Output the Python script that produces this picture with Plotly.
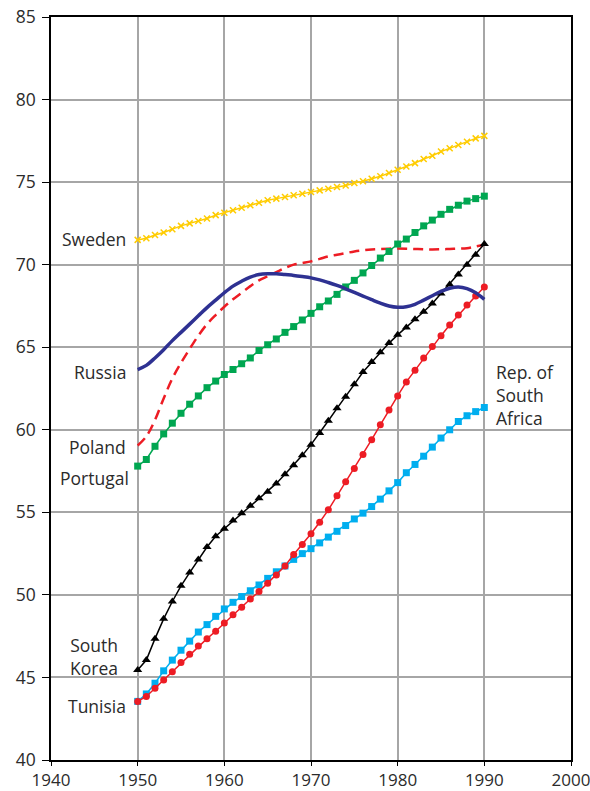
import plotly.graph_objects as go

years = list(range(1950, 1991))

sweden = [71.5, 71.6, 71.8, 71.95, 72.15, 72.35, 72.5, 72.65, 72.8, 73.0,
          73.15, 73.3, 73.45, 73.6, 73.75, 73.9, 74.0, 74.1, 74.2, 74.3,
          74.4, 74.5, 74.6, 74.7, 74.8, 74.95, 75.05, 75.2, 75.35, 75.55,
          75.75, 75.95, 76.15, 76.4, 76.6, 76.85, 77.05, 77.25, 77.45, 77.65, 77.8]

portugal = [57.8, 58.2, 59.0, 59.75, 60.4, 61.0, 61.55, 62.05, 62.55, 62.95,
            63.35, 63.65, 64.0, 64.35, 64.8, 65.15, 65.5, 65.9, 66.25, 66.65,
            67.05, 67.45, 67.8, 68.2, 68.65, 69.05, 69.5, 69.95, 70.4, 70.8,
            71.25, 71.55, 71.95, 72.35, 72.7, 73.05, 73.35, 73.6, 73.85, 74.0, 74.15]

russia = [63.65, 63.9, 64.35, 64.85, 65.4, 65.9, 66.4, 66.9, 67.4, 67.85,
          68.3, 68.7, 69.0, 69.25, 69.4, 69.45, 69.45, 69.4, 69.35, 69.28,
          69.2, 69.08, 68.92, 68.74, 68.54, 68.32, 68.1, 67.88, 67.67, 67.5,
          67.42, 67.45, 67.6, 67.85, 68.12, 68.38, 68.57, 68.65, 68.55, 68.3, 67.9]

poland = [59.05, 59.6, 60.6, 61.9, 63.1, 64.05, 64.9, 65.7, 66.4, 66.95,
          67.45, 67.9, 68.3, 68.7, 69.05, 69.3, 69.55, 69.8, 70.0, 70.1,
          70.2, 70.35, 70.5, 70.6, 70.7, 70.8, 70.87, 70.92, 70.95, 70.97,
          70.98, 70.97, 70.95, 70.93, 70.92, 70.93, 70.95, 70.97, 71.0, 71.1, 71.2]

south_korea = [45.45, 46.05, 47.35, 48.55, 49.6, 50.55, 51.35, 52.15, 52.9, 53.55,
               54.0, 54.5, 54.95, 55.4, 55.85, 56.25, 56.75, 57.3, 57.85, 58.45,
               59.1, 59.8, 60.55, 61.3, 62.0, 62.75, 63.5, 64.1, 64.7, 65.25,
               65.75, 66.2, 66.7, 67.15, 67.65, 68.25, 68.8, 69.4, 70.0, 70.6, 71.25]

tunisia = [43.55, 43.85, 44.35, 44.85, 45.35, 45.9, 46.4, 46.9, 47.35, 47.8,
           48.3, 48.8, 49.25, 49.75, 50.2, 50.7, 51.2, 51.75, 52.45, 53.05,
           53.7, 54.4, 55.15, 56.0, 56.85, 57.65, 58.5, 59.4, 60.3, 61.2,
           62.05, 62.9, 63.6, 64.35, 65.05, 65.7, 66.35, 66.95, 67.55, 68.1, 68.65]

south_africa = [43.55, 44.0, 44.65, 45.4, 46.05, 46.65, 47.2, 47.75, 48.2, 48.7,
                49.15, 49.55, 49.9, 50.25, 50.6, 51.0, 51.4, 51.75, 52.15, 52.5,
                52.8, 53.15, 53.5, 53.85, 54.2, 54.6, 54.95, 55.35, 55.8, 56.3,
                56.8, 57.4, 57.9, 58.4, 58.95, 59.5, 60.0, 60.5, 60.85, 61.1, 61.35]

x_ticks = [1940, 1950, 1960, 1970, 1980, 1990, 2000]
y_ticks = [40, 45, 50, 55, 60, 65, 70, 75, 80, 85]

labels = [
    ("Sweden", 1948.9, 71.55, "right"),
    ("Russia", 1948.9, 63.5, "right"),
    ("Poland", 1948.9, 58.95, "right"),
    ("Portugal", 1949.2, 57.1, "right"),
    ("South<br>Korea", 1948.0, 46.25, "right"),
    ("Tunisia", 1948.9, 43.3, "right"),
    ("Rep. of<br>South<br>Africa", 1991.1, 62.1, "left"),
]

FONT = "Open Sans, Noto Sans, sans-serif"
TXT = "#2b2b2b"

fig = go.Figure()

fig.add_trace(go.Scatter(x=years, y=poland, mode="lines",
                         line=dict(color="#ED1C24", width=2.5, dash="10px,6px", shape="spline"),
                         name="Poland"))
fig.add_trace(go.Scatter(x=years, y=sweden, mode="lines+markers",
                         line=dict(color="#FFCC00", width=1.5),
                         marker=dict(symbol="x-thin-open", size=6, color="#FFCC00",
                                     line=dict(width=1.5, color="#FFCC00")),
                         name="Sweden"))
fig.add_trace(go.Scatter(x=years, y=portugal, mode="lines+markers",
                         line=dict(color="#00A651", width=1.5),
                         marker=dict(symbol="square", size=7, color="#00A651"),
                         name="Portugal"))
fig.add_trace(go.Scatter(x=years, y=south_africa, mode="lines+markers",
                         line=dict(color="#00AEEF", width=1.5),
                         marker=dict(symbol="square", size=7, color="#00AEEF"),
                         name="Rep. of South Africa"))
fig.add_trace(go.Scatter(x=years, y=tunisia, mode="lines+markers",
                         line=dict(color="#ED1C24", width=1.5),
                         marker=dict(symbol="circle", size=7, color="#ED1C24"),
                         name="Tunisia"))
fig.add_trace(go.Scatter(x=years, y=south_korea, mode="lines+markers",
                         line=dict(color="#000000", width=1.5),
                         marker=dict(symbol="triangle-up", size=8, color="#000000"),
                         name="South Korea"))
fig.add_trace(go.Scatter(x=years, y=russia, mode="lines",
                         line=dict(color="#2E3192", width=3.5, shape="spline"),
                         name="Russia"))

for text, xv, yv, align in labels:
    fig.add_annotation(x=xv, y=yv, text=text, showarrow=False,
                       xanchor=align, yanchor="middle", align=align,
                       font=dict(family=FONT, size=17.5, color=TXT))

fig.update_xaxes(range=[1940, 2000], tickvals=x_ticks, ticks="outside", ticklen=4,
                 tickcolor="black", showline=True, linecolor="black", linewidth=1.5,
                 mirror=True, showgrid=True, gridcolor="#a6a6a6", gridwidth=1.5,
                 zeroline=False, automargin=False, ticklabelstandoff=0,
                 ticklabeloverflow="allow",
                 tickfont=dict(family=FONT, size=17, color=TXT))
fig.update_yaxes(range=[40, 85], tickvals=y_ticks, ticks="outside", ticklen=7,
                 tickcolor="black", showline=True, linecolor="black", linewidth=1.5,
                 mirror=True, showgrid=True, gridcolor="#a6a6a6", gridwidth=1.5,
                 zeroline=False, automargin=False, ticklabeloverflow="allow",
                 ticklabelstandoff=3,
                 tickfont=dict(family=FONT, size=17.5, color=TXT))

fig.update_layout(width=590, height=791, showlegend=False,
                  margin=dict(l=51, r=19, t=17, b=31),
                  plot_bgcolor="white", paper_bgcolor="white")

fig.write_html("out.html", config={"displayModeBar": False},
               post_script="document.body.style.margin='0';document.body.style.overflow='hidden';")
